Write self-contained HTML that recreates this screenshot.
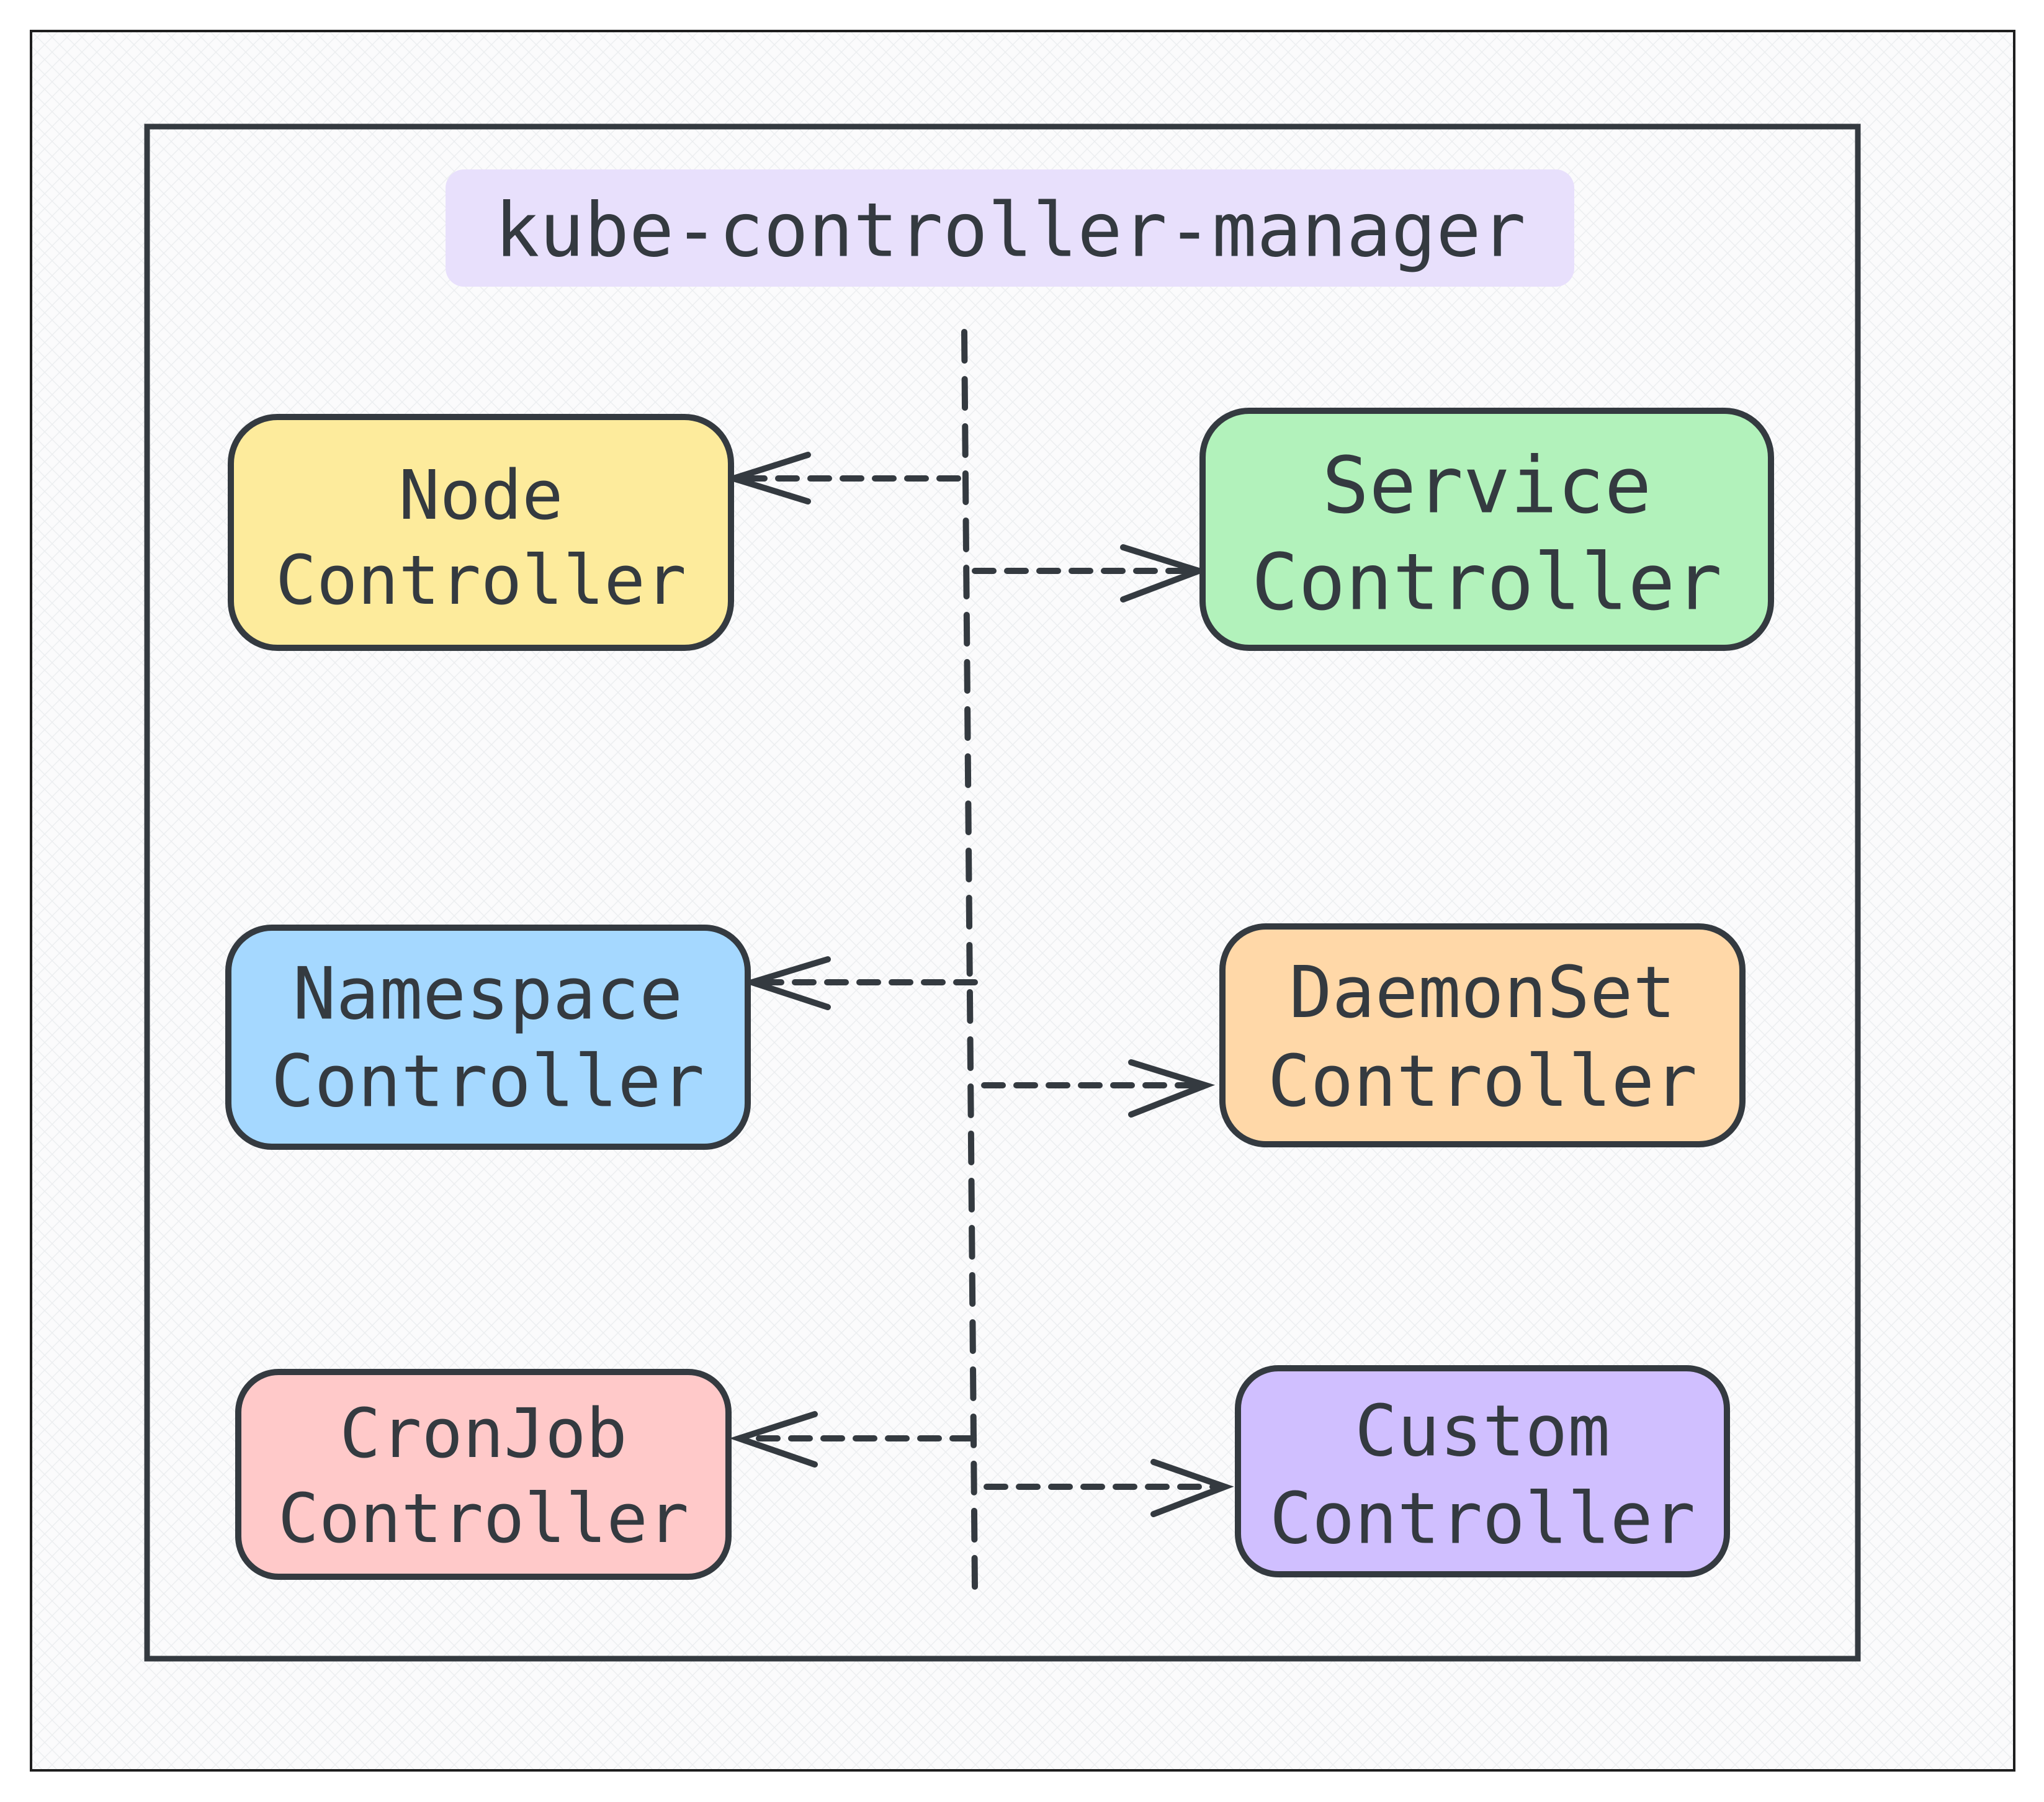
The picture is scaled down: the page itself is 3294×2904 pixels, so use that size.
<!DOCTYPE html>
<html><head><meta charset="utf-8"><style>
html,body{margin:0;padding:0;background:#fff;}
svg{display:block;}
text{font-family:"DejaVu Sans Mono","Liberation Mono",monospace;fill:#343a40;text-anchor:middle;dominant-baseline:central;}
</style></head><body>
<svg width="3294" height="2904" viewBox="0 0 3294 2904" xmlns="http://www.w3.org/2000/svg">
<defs>
<pattern id="h" width="24" height="24" patternUnits="userSpaceOnUse">
<rect width="24" height="24" fill="#fbfbfc"/>
<path d="M0 0L24 24M24 0L0 24" stroke="#eceef0" stroke-width="1.5"/>
</pattern>
</defs>
<rect width="3294" height="2904" fill="#fff"/>
<rect x="50" y="50" width="3196" height="2803" fill="url(#h)" stroke="#1e1e1e" stroke-width="4"/>
<rect x="237" y="204" width="2757" height="2469" fill="none" stroke="#343a40" stroke-width="9"/>
<rect x="718" y="273" width="1819" height="189" rx="30" fill="#e8e0fc"/>
<text x="1628" y="372" font-size="120">kube-controller-manager</text>

<g stroke="#343a40" stroke-width="10" stroke-linecap="round" fill="none">
<path d="M1554 535L1571 2558" stroke-dasharray="46 30"/>
<path d="M1544 771L1190 771" stroke-dasharray="30 22"/>
<path d="M1302 733L1182 771L1302 808"/>
<path d="M1571 920L1925 920" stroke-dasharray="30 22"/>
<path d="M1810 882L1932 920L1810 966"/>
<path d="M1571 1583L1222 1583" stroke-dasharray="30 22"/>
<path d="M1334 1546L1212 1583L1334 1623"/>
<path d="M1586 1749L1935 1749" stroke-dasharray="30 22"/>
<path d="M1823 1712L1943 1749L1823 1796"/>
<path d="M1565 2318L1200 2318" stroke-dasharray="30 22"/>
<path d="M1313 2279L1191 2318L1313 2360"/>
<path d="M1590 2396L1965 2396" stroke-dasharray="30 22"/>
<path d="M1859 2356L1974 2396L1859 2440"/>
</g>

<g stroke="#343a40" stroke-width="10">
<rect x="372" y="672" width="806" height="372" rx="75" fill="#fdeb9c"/>
<rect x="1938" y="662" width="916" height="382" rx="75" fill="#b2f2bb"/>
<rect x="368" y="1495" width="837" height="353" rx="70" fill="#a5d8ff"/>
<rect x="1970" y="1493" width="838" height="351" rx="70" fill="#ffd8a8"/>
<rect x="384" y="2211" width="790" height="330" rx="65" fill="#ffc9c9"/>
<rect x="1995" y="2205" width="788" height="332" rx="65" fill="#d0bfff"/>
</g>

<text x="775" y="798" font-size="110">Node</text>
<text x="775" y="935" font-size="110">Controller</text>
<text x="2396" y="782" font-size="126">Service</text>
<text x="2396" y="938" font-size="126">Controller</text>
<text x="786" y="1602" font-size="116">Namespace</text>
<text x="786" y="1743" font-size="116">Controller</text>
<text x="2389" y="1600" font-size="115">DaemonSet</text>
<text x="2389" y="1743" font-size="115">Controller</text>
<text x="779" y="2310" font-size="110">CronJob</text>
<text x="779" y="2447" font-size="110">Controller</text>
<text x="2389" y="2306" font-size="114">Custom</text>
<text x="2389" y="2447" font-size="114">Controller</text>
</svg>
</body></html>
